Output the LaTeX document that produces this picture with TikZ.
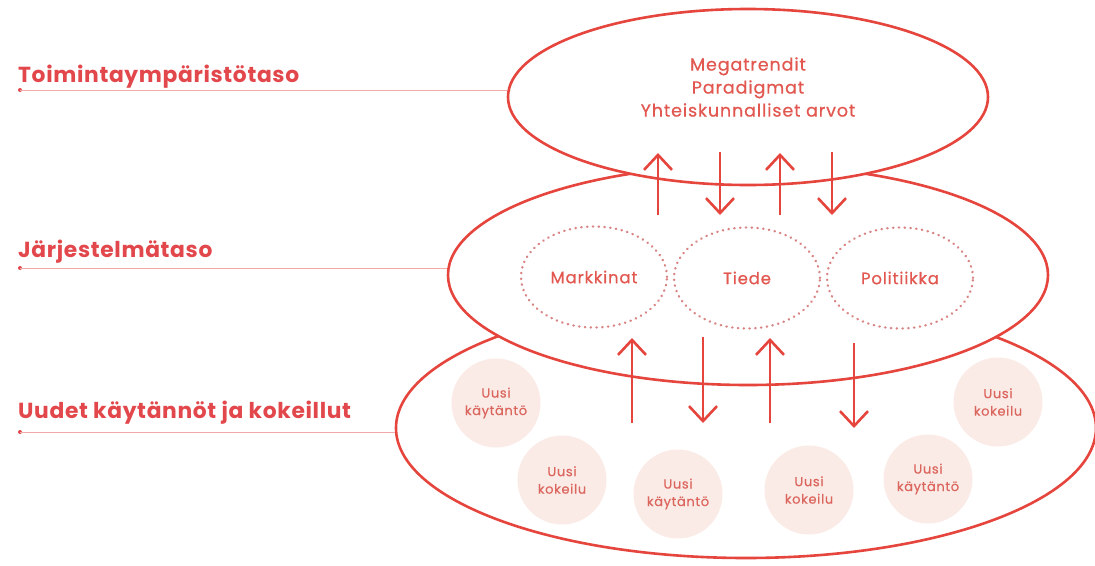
\documentclass[tikz,border=0pt]{standalone}
\usepackage{fontspec}
\setmainfont{Poppins}
\newfontfamily\medfont[FakeBold=0.5,LetterSpace=5]{Poppins}
\newfontfamily\labfont[LetterSpace=3]{Poppins}
\usetikzlibrary{shapes.geometric,arrows.meta}
\definecolor{lred}{HTML}{E5453C}
\definecolor{ltxt}{HTML}{E2474C}
\definecolor{itxt}{HTML}{E2574F}
\definecolor{ctxt}{HTML}{DB665E}
\definecolor{cfill}{HTML}{FBEBE7}
\definecolor{dotc}{HTML}{D98282}
\definecolor{gline}{HTML}{E8DCDC}
\definecolor{lline}{HTML}{F2A9A9}
\pgfdeclarelayer{bg}
\pgfsetlayers{bg,main}
\begin{document}
\begin{tikzpicture}[x=1pt,y=-1pt,
 level/.style={ellipse, draw=lred, line width=2.6pt, fill=white, inner sep=0pt},
 subsys/.style={ellipse, draw=dotc, line width=2.4pt, dash pattern=on 0.4pt off 5.4pt, line cap=round, minimum width=146pt, minimum height=101pt, inner sep=0pt, text=itxt, font=\medfont\fontsize{16.5}{18}\selectfont},
 newbox/.style={circle, fill=cfill, minimum size=89pt, inner sep=0pt, align=center, text=ctxt, font=\medfont\fontsize{13}{17.5}\selectfont},
 lab/.style={anchor=base west, text=ltxt, font=\labfont\bfseries\fontsize{21.8}{24}\selectfont, inner sep=0pt},
 ldot/.style={circle, fill=ltxt, minimum size=4pt, inner sep=0pt},
 lline/.style={draw=lline, line width=0.9pt},
 flow/.style={draw=lred, line width=2.6pt, -{Straight Barb[length=15pt,width=28pt]}},
 ]
\useasboundingbox[fill=white] (0,0) rectangle (1095,565);

% bottom level
\node[level, minimum width=700pt, minimum height=260pt] (bot) at (746,428) {};
\node[newbox] (c1) at (496,403) {Uusi\\käytäntö};
\node[newbox] (c2) at (562,480) {Uusi\\kokeilu};
\node[newbox] (c3) at (678,494) {Uusi\\käytäntö};
\node[newbox] (c4) at (809,490) {Uusi\\kokeilu};
\node[newbox] (c5) at (928,479) {Uusi\\käytäntö};
\node[newbox] (c6) at (998,402) {Uusi\\kokeilu};

% middle level
\node[level, minimum width=600pt, minimum height=220pt] (mid) at (748,275) {};
\node[subsys] (s1) at (594,277) {Markkinat};
\node[subsys] (s2) at (747,278) {Tiede};
\node[subsys] (s3) at (900,278) {Politiikka};

% top level
\node[level, minimum width=480pt, minimum height=176pt] (top) at (748,97) {};
\node[align=center, text=itxt, font=\medfont\fontsize{17.5}{23}\selectfont, inner sep=0pt] (toptext) at (748,87) {Megatrendit\\Paradigmat\\Yhteiskunnalliset arvot};

% faint perspective lines
\begin{pgfonlayer}{bg}
\coordinate (pl1) at (507,104);
\coordinate (pl2) at (395,434);
\coordinate (pr1) at (989,104);
\coordinate (pr2) at (1101,434);
\draw[gline, line width=1pt] (pl1) -- (pl2);
\draw[gline, line width=1pt] (pr1) -- (pr2);
\end{pgfonlayer}

% arrows between top and middle
\draw[flow] (658,215) -- (658,153);
\draw[flow] (720,152) -- (720,215);
\draw[flow] (780,215) -- (780,153);
\draw[flow] (832,152) -- (832,215);
% arrows between middle and bottom
\draw[flow] (632,423) -- (632,338);
\draw[flow] (703,337) -- (703,423);
\draw[flow] (770,423) -- (770,338);
\draw[flow] (854,343) -- (854,428);

% labels
\node[lab] (l1) at (18,82) {Toimintaympäristötaso};
\node[lab] (l2) at (18,257) {Järjestelmätaso};
\node[lab] (l3) at (18,418) {Uudet käytännöt ja kokeillut};
\node[ldot] (d1) at (20,90) {};
\node[ldot] (d2) at (20,268) {};
\node[ldot] (d3) at (20,432) {};
\draw[lline] (d1.center) -- (d1 -| top.west);
\draw[lline] (d2.center) -- (d2 -| mid.west);
\draw[lline] (d3.center) -- (d3 -| bot.west);
\end{tikzpicture}
\end{document}
